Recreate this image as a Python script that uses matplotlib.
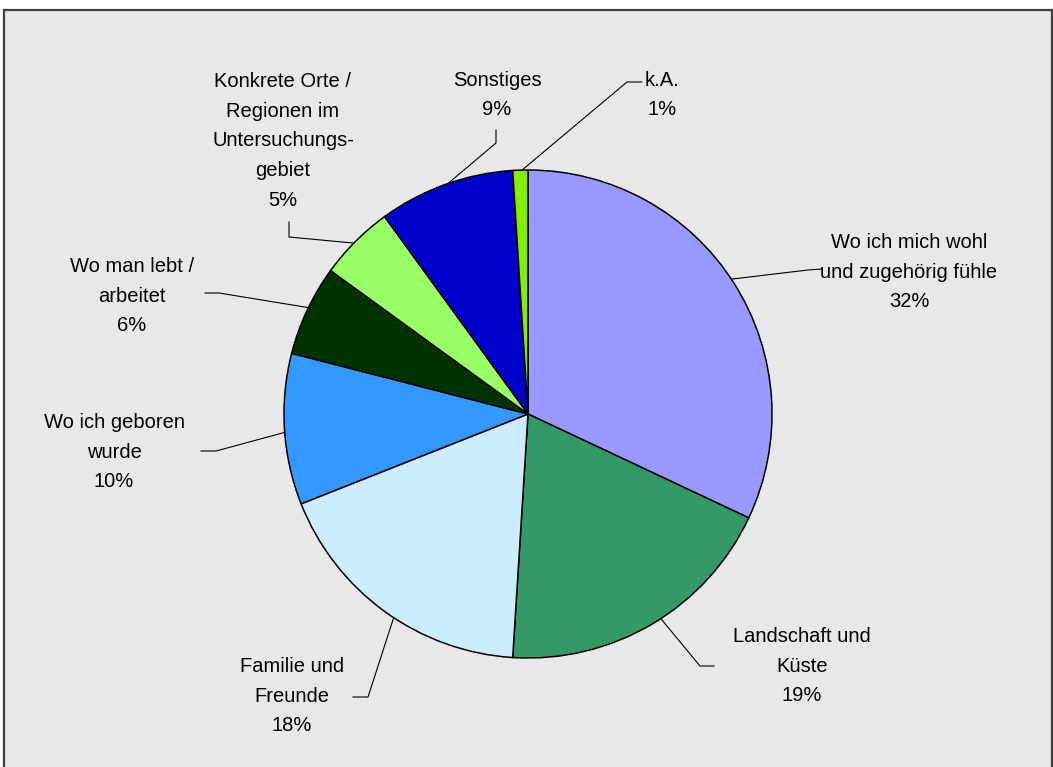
import numpy as np
import matplotlib.pyplot as plt
from matplotlib.patches import Rectangle

plt.rcParams['font.family'] = ['Liberation Sans', 'DejaVu Sans']

labels = ["Wo ich mich wohl\nund zugehörig fühle", "Landschaft und\nKüste",
          "Familie und\nFreunde", "Wo ich geboren\nwurde", "Wo man lebt /\narbeitet",
          "Konkrete Orte /\nRegionen im\nUntersuchungs-\ngebiet", "Sonstiges", "k.A."]
values = [32, 19, 18, 10, 6, 5, 9, 1]
colors = ["#9999FF", "#339966", "#CCECFF", "#3399FF", "#003300", "#99FF66", "#0000CC", "#80F000"]

W, H = 1053, 767
# label text centre (pixel coords, y down), elbow point, end of short tick
text_pos = [(909, 272), (802, 666), (292, 696), (114, 452), (132, 296), (283, 141), (497, 95), (662, 95)]
elbow = [(808, 270), (700, 666), (368, 697), (216, 451), (219, 293), (289, 237), (496, 143), (627, 82)]
tick_end = [(822, 269), (714, 666), (353, 697), (201, 451), (205, 293), (289, 222), (496, 130), (642, 82)]
edge_frac = [0.51, 0.535, 0.54, 0.52, 0.47, 0.53, 0.48, 0.39]

cx, cy, r = 528, H - 414, 244

fig = plt.figure(figsize=(W / 100, H / 100), dpi=100)
fig.patch.set_facecolor("white")
ax = fig.add_axes([0, 0, 1, 1])

ax.add_patch(Rectangle((4, -5), 1048, H - 10 + 5, facecolor="#E8E8E8",
                       edgecolor="#404040", linewidth=1.6, zorder=0))

wedges, _ = ax.pie(values, colors=colors, startangle=90, counterclock=False,
                   center=(cx, cy), radius=r, frame=True,
                   wedgeprops=dict(edgecolor="black", linewidth=1.1))
ax.set_xlim(0, W)
ax.set_ylim(0, H)
ax.axis("off")

for i, w in enumerate(wedges):
    # point on the wedge's outer edge used as leader start
    ang = np.deg2rad(w.theta1 + (w.theta2 - w.theta1) * edge_frac[i])
    px, py = cx + r * np.cos(ang), cy + r * np.sin(ang)
    ex, ey = elbow[i]
    tx, ty = tick_end[i]
    ax.plot([px, ex, tx], [py, H - ey, H - ty], color="black", linewidth=0.8, zorder=3)
    x, y = text_pos[i]
    ax.text(x, H - y, f"{labels[i]}\n{values[i]}%", ha="center", va="center",
            fontsize=14.5, linespacing=1.72, color="black")

fig.savefig("out.png", dpi=100)
